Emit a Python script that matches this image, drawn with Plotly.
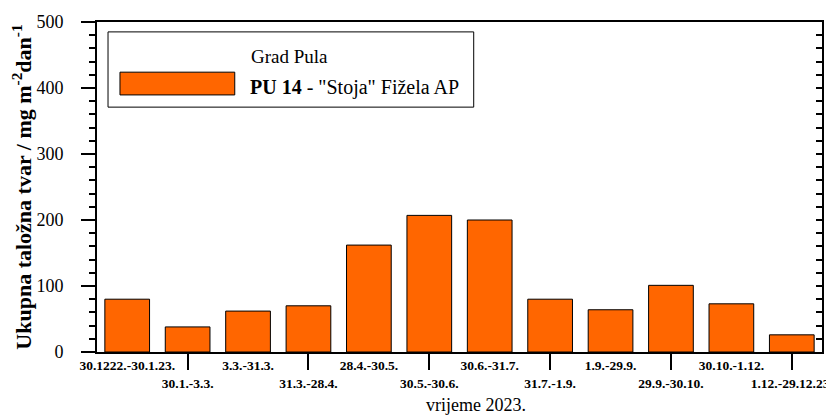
import plotly.graph_objects as go

categories = ["30.1222.-30.1.23.", "30.1.-3.3.", "3.3.-31.3.", "31.3.-28.4.", "28.4.-30.5.",
              "30.5.-30.6.", "30.6.-31.7.", "31.7.-1.9.", "1.9.-29.9.", "29.9.-30.10.",
              "30.10.-1.12.", "1.12.-29.12.23."]
values = [80, 38, 62, 70, 162, 207, 200, 80, 64, 101, 73, 26]
y_ticks = [0, 100, 200, 300, 400, 500]
series_name = "<b>PU 14</b> - \"Stoja\" Fižela AP"
legend_title = "Grad Pula"

positions = list(range(len(categories)))
ticktext = [c if i % 2 == 0 else "<br>" + c for i, c in enumerate(categories)]
tick_marks = [p for p in positions if p % 2 == 1]

FONT = "Liberation Serif, Times New Roman, serif"
BAR = "#FF6600"

fig = go.Figure()
fig.add_trace(go.Bar(x=positions, y=values, width=0.74, marker=dict(color=BAR, line=dict(color="black", width=1)),
                     name=series_name, showlegend=False))
# invisible helper trace for the secondary (decorative) axes
fig.add_trace(go.Scatter(x=[0], y=[0], xaxis="x2", yaxis="y2", mode="markers",
                         marker=dict(opacity=0), showlegend=False, hoverinfo="skip"))

fig.update_layout(
    width=826, height=409,
    margin=dict(l=89, r=12, t=14, b=65),
    plot_bgcolor="white", paper_bgcolor="white",
    font=dict(family=FONT, color="black"),
    showlegend=False,
    xaxis=dict(range=[-0.5, 11.5], tickvals=positions, ticktext=ticktext, ticks="",
               showline=True, linecolor="black", linewidth=2, mirror=True, showgrid=False,
               zeroline=False, tickfont=dict(family=FONT, size=13.5, color="black", weight="bold"),
               tickangle=0, automargin=False, ticklabeloverflow="allow"),
    xaxis2=dict(range=[-0.5, 11.5], overlaying="x", anchor="y2", side="bottom", tickvals=tick_marks,
                ticks="outside", ticklen=17, tickwidth=2, tickcolor="black", showticklabels=False,
                showgrid=False, zeroline=False, showline=False),
    yaxis=dict(range=[0, 500], tickvals=y_ticks, ticks="outside", ticklen=14, tickwidth=2,
               tickcolor="black", ticklabelstandoff=14, automargin=False,
               minor=dict(dtick=20, ticks="outside", ticklen=6, tickwidth=2, tickcolor="black", showgrid=False),
               showline=True, linecolor="black", linewidth=2, mirror=True, showgrid=False, zeroline=False,
               tickfont=dict(family=FONT, size=18, color="black"),
               title=dict(text="Ukupna taložna tvar / mg m<sup>-2</sup>dan<sup>-1</sup>",
                          font=dict(family=FONT, size=22, color="black", weight="bold"), standoff=8)),
    yaxis2=dict(range=[0, 500], overlaying="y", anchor="x2", side="right", dtick=20, ticks="inside",
                ticklen=6, tickwidth=2, tickcolor="black", showticklabels=False, showgrid=False,
                zeroline=False, showline=False),
)

# x axis title
fig.add_annotation(text="vrijeme 2023.", xref="paper", yref="paper", x=0.523, y=-0.162,
                   xanchor="center", yanchor="middle", showarrow=False,
                   font=dict(family=FONT, size=18, color="black"))

# custom legend
fig.add_shape(type="rect", xref="paper", yref="paper", x0=0.0152, x1=0.5196, y0=0.742, y1=0.970,
              line=dict(color="black", width=1), fillcolor="white")
fig.add_shape(type="rect", xref="paper", yref="paper", x0=0.0317, x1=0.190, y0=0.779, y1=0.848,
              line=dict(color="black", width=1), fillcolor=BAR)
fig.add_annotation(text=legend_title, xref="paper", yref="paper", x=0.2097, y=0.894,
                   xanchor="left", yanchor="middle", showarrow=False,
                   font=dict(family=FONT, size=19, color="black"))
fig.add_annotation(text=series_name, xref="paper", yref="paper", x=0.2083, y=0.80,
                   xanchor="left", yanchor="middle", showarrow=False,
                   font=dict(family=FONT, size=20, color="black"))

fig.write_html("out.html")
